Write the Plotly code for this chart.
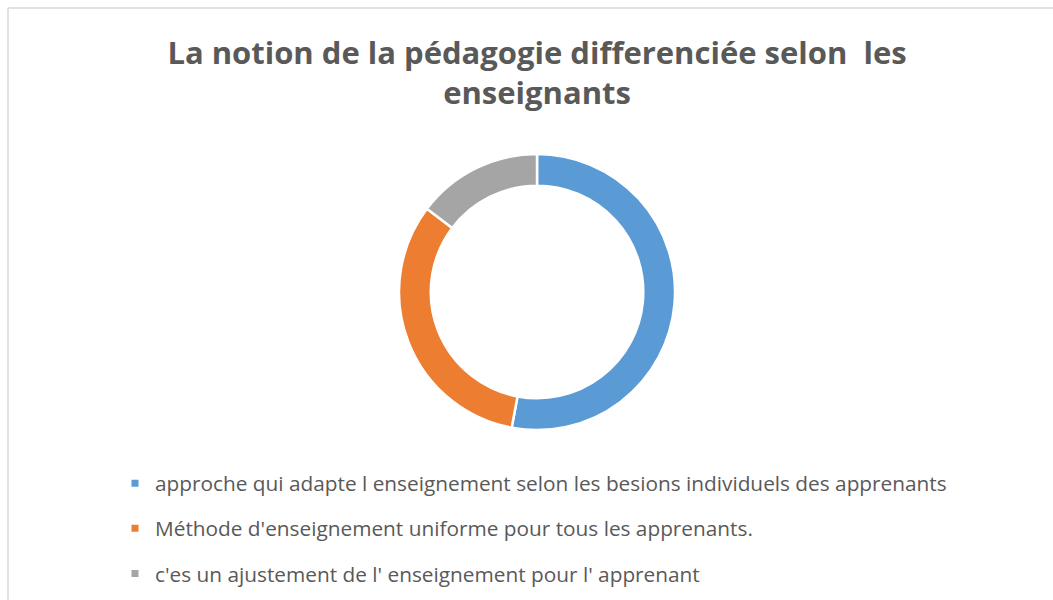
import plotly.graph_objects as go

labels = [
    "approche qui adapte l enseignement selon les besions individuels des apprenants",
    "Méthode d'enseignement uniforme pour tous les apprenants.",
    "c'es un ajustement de l' enseignement pour l' apprenant",
]
values = [18, 11, 5]
colors = ["#5B9BD5", "#ED7D31", "#A5A5A5"]
title_text = "La notion de la pédagogie differenciée selon  les<br>enseignants"

W, H = 1053, 600
fig = go.Figure()

fig.add_trace(go.Pie(
    labels=labels, values=values, hole=0.77, sort=False,
    direction="clockwise", rotation=0,
    marker=dict(colors=colors, line=dict(color="white", width=2.5)),
    textinfo="none", hoverinfo="label+value+percent",
    showlegend=False,
    domain=dict(x=[0.02, 1.0], y=[(H - 430) / H, (H - 154) / H]),
))

for lab, col in zip(labels, colors):
    fig.add_trace(go.Scatter(
        x=[None], y=[None], mode="markers", name=lab, legendgroup=lab,
        marker=dict(symbol="square", size=7, color=col),
        showlegend=True, hoverinfo="skip",
    ))

fig.update_layout(
    width=W, height=H,
    margin=dict(l=0, r=0, t=0, b=0),
    paper_bgcolor="white", plot_bgcolor="white",
    title=dict(text=title_text, x=0.51, xanchor="center", y=1 - 64 / H, yanchor="top",
               font=dict(family="Open Sans", size=31, color="#595959", weight="bold")),
    xaxis=dict(visible=False), yaxis=dict(visible=False),
    legend=dict(x=115 / W, xanchor="left", y=1 - 463.3 / H, yanchor="top",
                font=dict(family="Open Sans", size=20.8, color="#595959"),
                traceorder="grouped", tracegroupgap=15.0,
                bgcolor="rgba(0,0,0,0)"),
    shapes=[
        dict(type="line", xref="paper", yref="paper", x0=8 / W, x1=1, y0=1 - 8 / H, y1=1 - 8 / H,
             line=dict(color="#D9D9D9", width=1.5)),
        dict(type="line", xref="paper", yref="paper", x0=8 / W, x1=8 / W, y0=0, y1=1 - 8 / H,
             line=dict(color="#D9D9D9", width=1.5)),
    ],
)

fig.write_html("out.html", config={"displayModeBar": False},
               post_script="document.body.style.margin='0';document.body.style.overflow='hidden';")
